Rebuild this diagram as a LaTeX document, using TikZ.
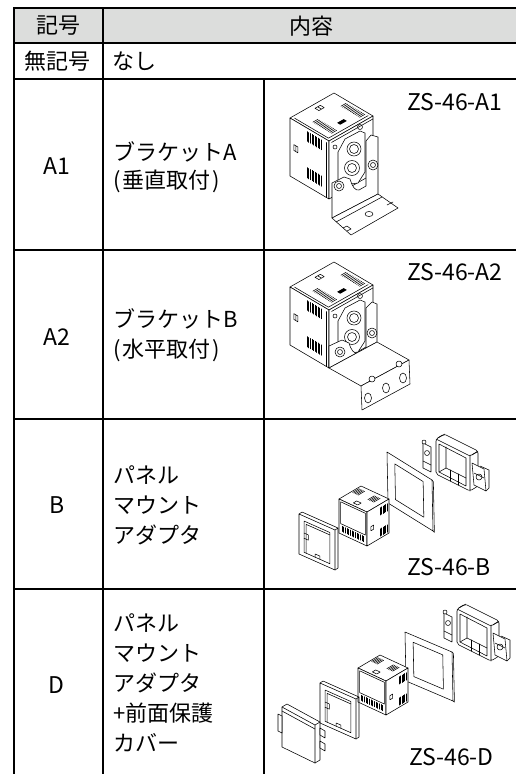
\documentclass[tikz,border=0pt]{standalone}
\usepackage{fontspec}
\setmainfont{Noto Sans CJK JP}
\definecolor{hdrgray}{HTML}{DCDDDC}
\tikzset{
  tbl/.style={line width=1.6pt, line cap=rect},
  jp/.style={font=\fontsize{22}{28}\selectfont, inner sep=0pt},
  lt/.style={font=\fontsize{23}{28}\selectfont, inner sep=0pt},
  ill/.style={line width=0.55pt, line join=round, line cap=round},
  bigunit/.style={x={(44pt,25pt)}, y={(39pt,-23pt)}, z={(0pt,-58pt)}},
  smallunit/.style={x={(22pt,13pt)}, y={(28pt,-13pt)}, z={(0pt,-34pt)}},
}
% big instrument body (3D coords: x=depth U, y=V, z=down)
\newcommand\unitbig{%
 \filldraw[fill=white] (0,0,0)--(1,0,0)--(1,1,0)--(0,1,0)--cycle;
 \filldraw[fill=white] (0,0,0)--(0,1,0)--(0,1,1)--(0,0,1)--cycle;
 \filldraw[fill=white] (0,1,0)--(1,1,0)--(1,1,1)--(0,1,1)--cycle;
 \draw (0.05,0.06,0)--(0.05,0.93,0)--(0.95,0.93,0);
 \draw (0,0.94,0.05)--(0,0.94,1);
 \draw (0.06,1,0.05)--(1,1,0.05);
 \draw (0.48,0.1,0)--(0.6,0.1,0)--(0.6,0.2,0)--(0.48,0.2,0)--cycle (0.54,0.1,0)--(0.54,0.2,0);
 \foreach \t in {0.38,0.42,...,0.87} {\draw (0.18,\t,0)--(0.3,\t,0); \draw (0.82,\t,0)--(0.94,\t,0);}
 \fill (0.45,0.7,0)--(0.6,0.7,0)--(0.6,0.78,0)--(0.45,0.78,0)--cycle;
 \foreach \t in {0.44,0.48,...,0.83} {\draw (0,\t,0.06)--(0,\t,0.23); \draw (0,\t,0.68)--(0,\t,0.86);}
 \draw (0,0.1,0.42)--(0,0.2,0.42)--(0,0.2,0.52)--(0,0.1,0.52)--cycle (0,0.15,0.42)--(0,0.15,0.52);
}
% small instrument body
\newcommand\unitsmall{%
 \filldraw[fill=white] (0,0,0)--(1,0,0)--(1,1,0)--(0,1,0)--cycle;
 \filldraw[fill=white] (0,0,0)--(0,1,0)--(0,1,1)--(0,0,1)--cycle;
 \filldraw[fill=white] (0,1,0)--(1,1,0)--(1,1,1)--(0,1,1)--cycle;
 \draw (0,0.06,0.06)--(0,0.94,0.06)--(0,0.94,0.7)--(0,0.06,0.7)--cycle;
 \foreach \t in {0.1,0.16,...,0.9} \draw (0,\t,0.76)--(0,\t,0.92);
 \foreach \t in {0.05,0.1,...,0.26} \draw (0.55,\t,0)--(0.85,\t,0);
 \foreach \t in {0.6,0.65,...,0.81} \draw (0.55,\t,0)--(0.85,\t,0);
 \draw (0.12,0.42,0)--(0.27,0.42,0)--(0.27,0.58,0)--(0.12,0.58,0)--cycle;
 \foreach \s in {0.6,0.66,...,0.91} {\draw (\s,1,0.1)--(\s,1,0.32); \draw (\s,1,0.72)--(\s,1,0.94);}
 \draw (0.18,1,0.5)--(0.3,1,0.5)--(0.3,1,0.62)--(0.18,1,0.62)--cycle;
}
\newcommand\bezelpart[1]{%
 \begin{scope}[shift={#1}, x={(36pt,-16pt)}, y={(0pt,-40pt)}]
  \draw (0,0)--(0.083,-0.083)--(1.083,-0.083)--(1.083,0.917)--(1,1) (1,0)--(1.083,-0.083);
  \filldraw[fill=white] (0,0)--(1,0)--(1,1)--(0,1)--cycle;
  \draw (0.14,0.12)--(0.86,0.12)--(0.86,0.9)--(0.14,0.9)--cycle;
  \draw (0.2,0.9)--(0.2,0.18)--(0.86,0.18);
  \draw (0.14,0.42)--(0.26,0.42)--(0.26,0.55)--(0.14,0.55);
  \draw (0.45,0.9)--(0.45,0.82)--(0.58,0.82)--(0.58,0.9);
 \end{scope}}
\newcommand\gasketpart[3]{%
 \begin{scope}[shift={#1}, x={#2}, y={#3}]
  \filldraw[fill=white] (0,0)--(1,0)--(1,1)--(0,1)--cycle;
  \draw (1,0)--(1.03,0.02)--(1.03,1.01)--(1,1);
  \draw (0.17,0.14)--(0.8,0.14)--(0.8,0.84)--(0.17,0.84)--cycle;
 \end{scope}}
\newcommand\holderpart[1]{%
 \begin{scope}[shift={#1}]
  \filldraw[fill=white] (-13,4)--(-5,8)--(-5,33)--(-13,29)--cycle;
  \draw (-9,14) circle[radius=2.5pt];
  \draw (-13,22)--(-5,26);
  \filldraw[fill=white] (-12,3) circle[radius=2pt];
  \filldraw[fill=white, rounded corners=2pt] (0,0)--(8,-5)--(42,12)--(42,47)--(34,52)--(0,35)--cycle;
  \draw[rounded corners=1.5pt] (0,0)--(34,17)--(42,12) (34,17)--(34,52);
  \draw[rounded corners=1.5pt] (2,-1)--(9,-5) (36,16)--(41,13);
  \draw (3,5)--(30,19)--(30,47)--(3,33)--cycle;
  \draw (3,33)--(10,29)--(30,39) (10,29)--(10,8);
  \draw (14,31)--(14,42) (22,35)--(22,46);
  \filldraw[fill=white] (36,24)--(48,30)--(50,52)--(38,46)--cycle;
  \draw (43,38) circle[radius=3pt];
  \draw (44,27)--(53,31)--(53,49)--(50,52);
  \draw (38,34)--(48,39);
 \end{scope}}
\begin{document}
\begin{tikzpicture}[x=1pt,y=-1pt]
\useasboundingbox (0,0) rectangle (516,774);
% ---------- table ----------
\fill[hdrgray] (14,8) rectangle (516,43);
\draw[tbl] (516,8)--(14,8)--(14,774);
\draw[tbl] (14,43)--(516,43) (14,79)--(516,79) (14,250)--(516,250)
           (14,419)--(516,419) (14,589)--(516,589);
\draw[tbl] (103,8)--(103,774) (264,79)--(264,774);
% ---------- texts ----------
\node[jp] (h1) at (58,26) {記号};
\node[jp] (h2) at (311,26) {内容};
\node[jp] (n0) at (57,61) {無記号};
\node[jp, anchor=west] (d0) at (112,61) {なし};
\node[lt] (n1) at (57,166) {A1};
\node[jp, anchor=west, align=left] (d1) at (113,167) {ブラケットA\\(\kern2pt 垂直取付\kern2pt)};
\node[lt, anchor=west] (m1) at (407,102) {ZS-46-A1};
\node[lt] (n2) at (57,337) {A2};
\node[jp, anchor=west, align=left, font=\fontsize{22}{30}\selectfont] (d2) at (113,335) {ブラケットB\\(\kern2pt 水平取付\kern2pt)};
\node[lt, anchor=west] (m2) at (407,272) {ZS-46-A2};
\node[lt] (n3) at (57,505) {B};
\node[jp, anchor=west, align=left, font=\fontsize{22}{30}\selectfont] (d3) at (113,505) {パネル\\マウント\\アダプタ};
\node[lt, anchor=west] (m3) at (407,567) {ZS-46-B};
\node[lt] (n4) at (56,685) {D};
\node[jp, anchor=west, align=left, font=\fontsize{22}{30}\selectfont] (d4) at (113,683) {パネル\\マウント\\アダプタ\\+前面保護\\カバー};
\node[lt, anchor=west] (m4) at (409,757) {ZS-46-D};
% ---------- A1 illustration ----------
\begin{scope}[ill]
 \begin{scope}[shift={(290,118)}, bigunit] \unitbig \end{scope}
 \filldraw[fill=white] (338,152)--(345,139)--(360,131)--(365,133)--(365,172)--(358,183)--(343,185)--(338,180)--cycle;
 \draw (354,149) circle[radius=7pt] (354,149) circle[radius=4.5pt];
 \draw (352,168) circle[radius=7.5pt] (352,168) circle[radius=4.5pt];
 \draw (360,127) circle[radius=2.5pt] (335,147) circle[radius=2pt];
 \filldraw[fill=white] (332,218)--(332,183)--(344,177)--(350,179) .. controls (352,186) and (355,191) .. (359,190)--(366,186)--(366,141)--(371,135)--(378,137)--(378,194)--cycle;
 \draw (373,165) circle[radius=5pt] (373,165) circle[radius=2.5pt];
 \draw (339,186) circle[radius=5pt] (339,186) circle[radius=2.5pt];
 \filldraw[fill=white] (332,218)--(351,235)--(398,208)--(378,194)--cycle;
 \draw (336,222)--(382,197);
 \draw (369,214) ellipse[x radius=4pt, y radius=2.5pt];
 \draw (343,228)--(347,226)--(351,229)--(347,231);
 \draw (387,205)--(393,202);
 % ---------- A2 illustration ----------
 \begin{scope}[shift={(290,287)}, bigunit] \unitbig \end{scope}
 \filldraw[fill=white] (338,321)--(345,308)--(360,300)--(365,302)--(365,341)--(358,352)--(343,354)--(338,349)--cycle;
 \draw (354,318) circle[radius=7pt] (354,318) circle[radius=4.5pt];
 \draw (352,337) circle[radius=7.5pt] (352,337) circle[radius=4.5pt];
 \draw (360,296) circle[radius=2.5pt] (335,316) circle[radius=2pt];
 \filldraw[fill=white] (329,368)--(329,346)--(342,340)--(349,343) .. controls (351,350) and (354,354) .. (358,353)--(366,349)--(366,308)--(372,302)--(377,304)--(377,342)--cycle;
 \draw (340,352) circle[radius=5pt] (340,352) circle[radius=2.5pt];
 \draw (372,333) circle[radius=5pt] (372,333) circle[radius=2.5pt];
 \filldraw[fill=white] (329,368)--(361,386)--(409,360)--(377,342)--cycle;
 \filldraw[fill=white] (361,386)--(409,360)--(410,384)--(362,410)--cycle;
 \draw (368,398) ellipse[x radius=3.5pt, y radius=5pt];
 \draw (386,388) ellipse[x radius=3.5pt, y radius=5pt];
 \draw (403,378) ellipse[x radius=3.5pt, y radius=5pt];
 \filldraw[fill=white] (372,379) circle[radius=3pt] (399,364) circle[radius=3pt];
 % ---------- B illustration ----------
 \holderpart{(436,439)}
 \gasketpart{(387,452)}{(45pt,-28pt)}{(1pt,-51pt)}
 \begin{scope}[shift={(339,499)}, smallunit] \unitsmall \end{scope}
 \bezelpart{(299,514)}
 % ---------- D illustration ----------
 \holderpart{(457,609)}
 \gasketpart{(405,632)}{(47pt,-20pt)}{(1pt,-49pt)}
 \begin{scope}[shift={(358,668)}, smallunit] \unitsmall \end{scope}
 \bezelpart{(320,683)}
 \filldraw[fill=white] (282,707)--(287,704)--(320,722)--(320,760)--(315,763)--(282,747)--cycle;
 \draw (282,707)--(315,725)--(320,722) (315,725)--(315,763);
 \draw (282,711)--(315,729);
 \filldraw[fill=white] (278,714)--(282,716)--(282,733)--(278,731)--cycle;
 \filldraw[fill=white] (320,728)--(325,731)--(325,738)--(320,735)--cycle;
 \filldraw[fill=white] (320,741)--(325,744)--(325,751)--(320,748)--cycle;
\end{scope}
\end{tikzpicture}
\end{document}
